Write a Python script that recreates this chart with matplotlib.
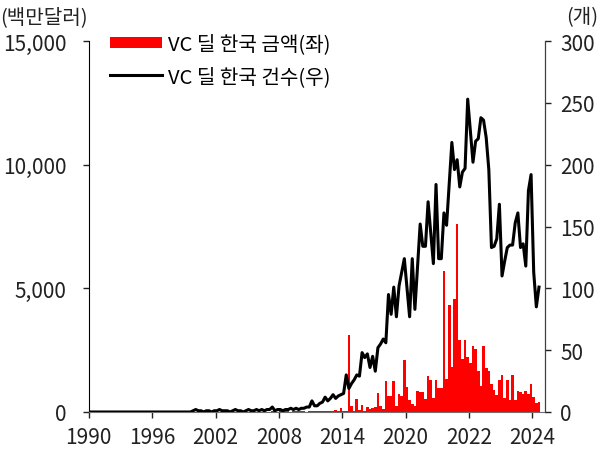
import numpy as np
import matplotlib
matplotlib.use("Agg")
import matplotlib.pyplot as plt
from matplotlib.ticker import FuncFormatter

plt.rcParams['font.family'] = ['Noto Sans CJK KR', 'DejaVu Sans']

# x-axis labels (one every 24 periods)
tick_labels = ['1990', '1996', '2002', '2008', '2014', '2020', '2022', '2024']

# VC deal count, Korea (right axis)
deal_count = [
    0, 0, 0, 0, 0, 0, 0, 0, 0, 0, 0, 0, 0, 0, 0, 0, 0, 0, 0, 0,
    0, 0, 0, 0, 0, 0, 0, 0, 0, 0, 0, 0, 0, 0, 0, 0, 0, 0, 0,
    1, 2, 1, 1, 0, 1, 1, 0, 1, 1, 2, 1, 1, 1, 0, 1, 2, 1, 1, 0,
    1, 2, 1, 1, 2, 1, 2, 1, 2, 2, 4, 1, 2, 2, 1, 2, 2, 3, 2, 3,
    2, 3, 3, 4, 4,
    9, 5, 5, 7, 8, 12, 9, 11, 14, 11, 13, 14, 15, 30, 19, 23, 26, 30, 29, 48,
    44, 47, 36, 45, 33, 52, 55, 59, 56, 95, 79, 101, 77, 102, 113, 124, 100, 77, 124, 83,
    118, 152, 134, 134, 170, 145, 120, 184, 124, 124, 161, 151, 185, 218, 196, 204, 182, 194, 197, 253,
    228, 202, 219, 221, 238, 236, 222, 196, 133, 134, 140, 168, 110, 122, 133, 135, 135, 153, 161, 133,
    136, 118, 179, 192, 113, 85, 101,
]

# VC deal amount, Korea, USD mn (left axis)
deal_amount = [
    0, 0, 0, 0, 0, 0, 0, 0, 0, 0, 0, 0, 0, 0, 0, 0, 0, 0, 0, 0,
    0, 0, 0, 0, 0, 0, 0, 0, 0, 0, 0, 0, 0, 0, 0, 0, 0, 0, 0,
    0, 10, 0, 0, 5, 0, 0, 10, 0, 5, 0, 0, 10, 5, 0, 0, 10, 0, 5, 0,
    10, 0, 0, 15, 5, 0, 10, 5, 0, 10, 20,
    20, 10, 30, 15, 20, 40, 10, 25, 30, 20, 40, 30, 15, 60, 40, 20, 30, 50, 25, 40,
    60, 30, 45, 70, 50,
    150, 40, 20, 3114, 255, 50, 526, 93, 283, 53, 190, 121, 175, 190, 756, 255, 121, 1266, 660, 635,
    1266, 230, 728, 660, 2103, 1023, 485, 323, 230, 861, 796, 821, 526, 1468, 1300, 560, 1290, 958, 958, 5714,
    1334, 4340, 1807, 4560, 7590, 2930, 2143, 2910, 2236, 1969, 2681, 2548, 1670, 1063, 2650, 1760, 1670, 1132, 903, 700,
    1306, 1496, 554, 1294, 497, 1496, 497, 849, 821, 728, 861, 728, 1132, 594, 364, 417,
]

x = np.arange(len(deal_count))

fig = plt.figure(figsize=(6, 4.52), dpi=100)
ax = fig.add_axes([0.148, 0.0863, 0.76, 0.8207])
ax2 = ax.twinx()

bars = ax.bar(x, deal_amount, width=1.0, color='#FF0000', linewidth=0,
              label='VC 딜 한국 금액(좌)')
line, = ax2.plot(x, deal_count, color='black', lw=2.2,
                 label='VC 딜 한국 건수(우)')

ax.set_xlim(-0.5, 172.2)
ax.set_ylim(0, 15000)
ax2.set_ylim(0, 300)
ax.set_yticks([0, 5000, 10000, 15000])
ax2.set_yticks([0, 50, 100, 150, 200, 250, 300])
ax.yaxis.set_major_formatter(FuncFormatter(lambda v, p: f'{v:,.0f}'))
ax.set_xticks(np.arange(len(tick_labels)) * 24 - 0.5)
ax.set_xticklabels(tick_labels)

for a in (ax, ax2):
    a.spines['top'].set_visible(False)
    a.tick_params(labelsize=15, colors='#222222', length=4, width=1, direction='out')
ax.spines['left'].set_color('black')
ax2.spines['right'].set_color('#404040')
ax.spines['bottom'].set_color('#707070')
ax2.spines['bottom'].set_visible(False)
ax2.spines['left'].set_visible(False)
ax.tick_params(axis='x', pad=6)
ax.tick_params(axis='y', pad=12)
ax2.tick_params(axis='y', pad=7)

ax2.legend([bars, line], ['VC 딜 한국 금액(좌)', 'VC 딜 한국 건수(우)'],
           loc='upper left', bbox_to_anchor=(0.046, 1.02), frameon=False,
           fontsize=14.5, handlelength=2.6, handleheight=0.5,
           labelspacing=0.55, handletextpad=0.3, borderpad=0, borderaxespad=0)

fig.text(0.0, 0.962, '(백만달러)', ha='left', va='center', fontsize=14.5, color='#222222')
fig.text(0.997, 0.962, '(개)', ha='right', va='center', fontsize=14.5, color='#222222')

fig.savefig('out.png', dpi=100)
